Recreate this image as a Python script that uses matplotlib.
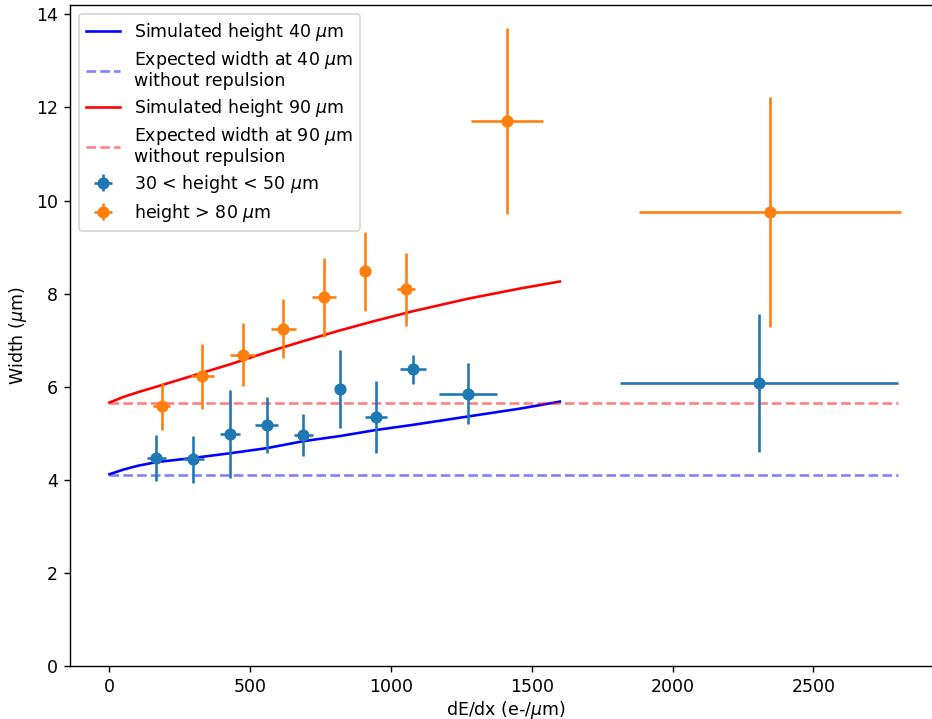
import numpy as np
import matplotlib
matplotlib.use('Agg')
import matplotlib.pyplot as plt

# simulated curves
sim_x = [0, 25, 50, 100, 167, 298, 428, 559, 689, 819, 947, 1077, 1273, 1459, 1600]
sim40_y = [4.12, 4.17, 4.22, 4.30, 4.38, 4.47, 4.57, 4.68, 4.83, 4.94, 5.07, 5.18, 5.36, 5.53, 5.68]
sim90_y = [5.66, 5.72, 5.78, 5.88, 6.00, 6.24, 6.48, 6.74, 6.98, 7.21, 7.42, 7.62, 7.89, 8.11, 8.26]

expected40 = 4.11
expected90 = 5.66
expected_x = [0, 2800]

# 30 < height < 50 um
low_x = [167, 298, 428, 559, 689, 819, 947, 1077, 1273, 2306]
low_xerr = [33, 37, 37, 41, 35, 15, 40, 46, 103, 494]
low_y = [4.47, 4.44, 4.98, 5.18, 4.96, 5.95, 5.35, 6.37, 5.85, 6.08]
low_yerr = [0.50, 0.50, 0.94, 0.60, 0.45, 0.84, 0.78, 0.32, 0.66, 1.49]

# height > 80 um
high_x = [185, 330, 473, 618, 762, 908, 1052, 1412, 2347]
high_xerr = [30, 42, 45, 45, 42, 18, 32, 128, 466]
high_y = [5.58, 6.22, 6.69, 7.25, 7.92, 8.48, 8.09, 11.70, 9.76]
high_yerr = [0.50, 0.69, 0.68, 0.64, 0.85, 0.85, 0.79, 2.00, 2.47]

DPI = 125


def main():
    fig = plt.figure(figsize=(932 / DPI, 719 / DPI), dpi=DPI)
    ax = fig.add_axes([70 / 932, 53 / 719, (942 - 70) / 932, 661 / 719])

    ax.plot(sim_x, sim40_y, color='blue', label='Simulated height 40 $\\mu$m')
    ax.plot(expected_x, [expected40] * 2, '--', color='blue', alpha=0.5,
            label='Expected width at 40 $\\mu$m\nwithout repulsion')
    ax.plot(sim_x, sim90_y, color='red', label='Simulated height 90 $\\mu$m')
    ax.plot(expected_x, [expected90] * 2, '--', color='red', alpha=0.5,
            label='Expected width at 90 $\\mu$m\nwithout repulsion')

    ax.errorbar(low_x, low_y, xerr=low_xerr, yerr=low_yerr, fmt='o',
                label='30 < height < 50 $\\mu$m')
    ax.errorbar(high_x, high_y, xerr=high_xerr, yerr=high_yerr, fmt='o',
                label='height > 80 $\\mu$m')

    ax.set_xlim(-140, 2957)
    ax.set_ylim(0, 14.2)
    ax.set_xlabel('dE/dx (e-/$\\mu$m)', labelpad=1.5)
    ax.set_ylabel('Width ($\\mu$m)')
    leg = ax.legend(loc='upper left', labelspacing=0.39)
    for t in leg.get_texts():
        t.set_linespacing(1.04)

    fig.savefig('out.png', dpi=DPI)


if __name__ == "__main__":
    main()
